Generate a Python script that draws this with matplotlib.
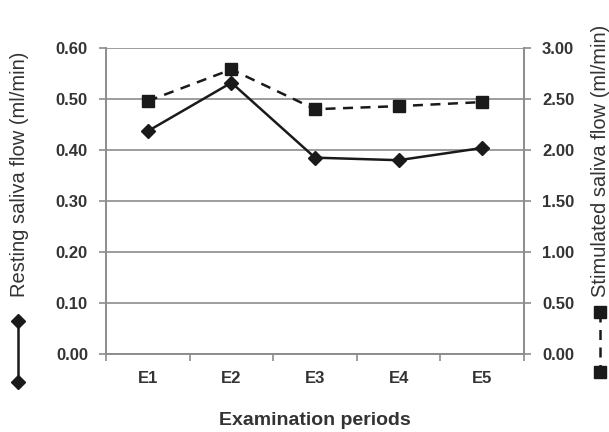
import matplotlib
matplotlib.use('Agg')
import matplotlib.pyplot as plt
from matplotlib.lines import Line2D

# examination periods
periods = ['E1', 'E2', 'E3', 'E4', 'E5']
# resting saliva flow (ml/min), left axis
resting = [0.437, 0.532, 0.385, 0.380, 0.404]
# stimulated saliva flow (ml/min), right axis
stimulated = [2.48, 2.79, 2.40, 2.43, 2.47]

left_ticks = [0.0, 0.1, 0.2, 0.3, 0.4, 0.5, 0.6]
right_ticks = [0.0, 0.5, 1.0, 1.5, 2.0, 2.5, 3.0]

plt.rcParams['font.family'] = ['Liberation Sans', 'DejaVu Sans']
txt = '#333333'
grey = '#8c8c8c'

fig = plt.figure(figsize=(6.09, 4.32), dpi=100)
ax1 = fig.add_axes([106/609, 1-354/432, (524-106)/609, (354-48)/432])
x = list(range(len(periods)))

ax1.set_xlim(-0.5, len(periods)-0.5)
ax1.set_ylim(0, 0.6)
ax1.set_yticks(left_ticks)
ax1.set_yticklabels(['%.2f' % v for v in left_ticks], fontsize=12, fontweight='bold', color=txt)
ax1.set_xticks(x)
ax1.set_xticklabels(periods, fontsize=12, fontweight='bold', color=txt)
ax1.set_xticks([i - 0.5 for i in range(len(periods)+1)], minor=True)
ax1.tick_params(axis='x', which='major', length=0, pad=12)
ax1.tick_params(axis='x', which='minor', length=5, width=1.2, color=grey, direction='out')
ax1.tick_params(axis='y', length=5, width=1.2, color=grey, direction='out', pad=8)
ax1.grid(axis='y', color=grey, linewidth=1.2)
ax1.set_axisbelow(True)
for s in ax1.spines.values():
    s.set_color(grey)
    s.set_linewidth(1.2)
ax1.spines['top'].set_visible(False)

ax2 = ax1.twinx()
ax2.set_ylim(0, 3.0)
ax2.set_yticks(right_ticks)
ax2.set_yticklabels(['%.2f' % v for v in right_ticks], fontsize=12, fontweight='bold', color=txt)
ax2.tick_params(axis='y', length=5, width=1.2, color=grey, direction='out', pad=8)
for s in ax2.spines.values():
    s.set_color(grey)
    s.set_linewidth(1.2)
ax2.spines['top'].set_visible(False)

ax1.plot(x, resting, color='#1a1a1a', linewidth=1.8, marker='D', markersize=7, zorder=5)
ax2.plot(x, stimulated, color='#1a1a1a', linewidth=1.8, linestyle=(0, (4, 3)),
         marker='s', markersize=8.5, zorder=5)

ax1.set_xlabel('Examination periods', fontsize=14, fontweight='bold', color=txt, labelpad=19)

# axis titles with their own line keys
fig.text(20/609, 1-297/432, 'Resting saliva flow (ml/min)', rotation=90,
         ha='center', va='bottom', fontsize=14.5, color=txt)
fig.text(600/609, 1-297/432, 'Stimulated saliva flow (ml/min)', rotation=90,
         ha='center', va='bottom', fontsize=14.5, color=txt)
fig.add_artist(Line2D([18/609, 18/609], [1-321/432, 1-382/432], transform=fig.transFigure,
                      color='#1a1a1a', linewidth=1.8, marker='D', markersize=7))
fig.add_artist(Line2D([600/609, 600/609], [1-312/432, 1-372/432], transform=fig.transFigure,
                      color='#1a1a1a', linewidth=1.8, linestyle=(0, (4, 3)),
                      marker='s', markersize=8.5))

fig.savefig('out.png', dpi=100)
